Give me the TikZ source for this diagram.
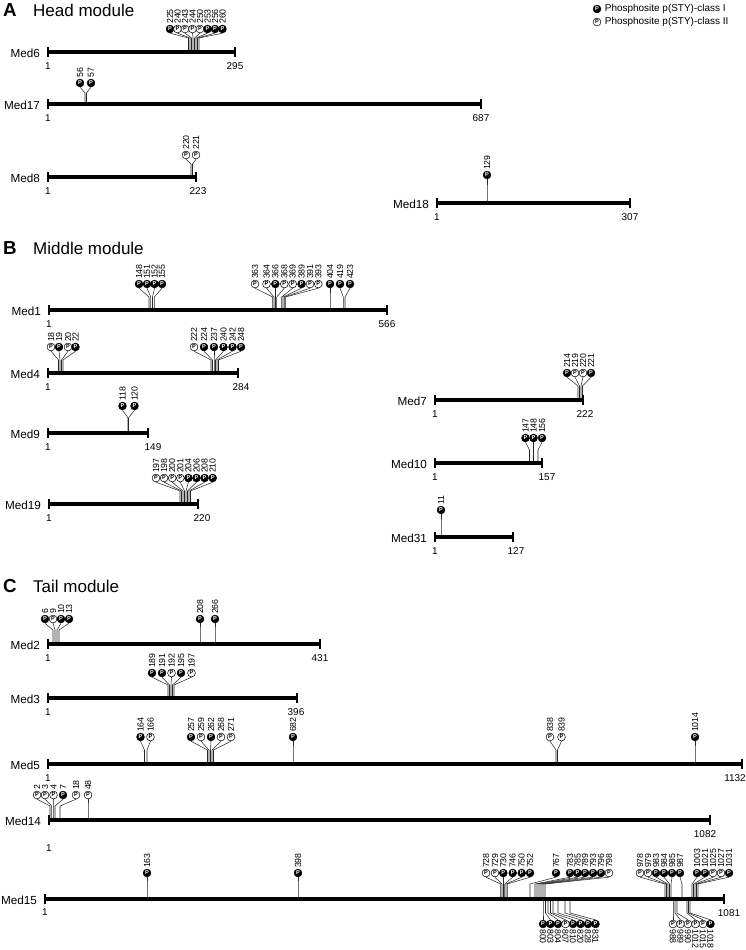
\documentclass[tikz,border=0pt]{standalone}
\usepackage{fontspec}
\setmainfont{Liberation Sans}
\usepackage{tikz}
\usetikzlibrary{positioning}

% one protein: name, x start, x end, y, length, x of length label, y offset of the 1
\newcommand{\protbar}[7]{%
  \coordinate (#1s) at (#2,#4);
  \coordinate (#1e) at (#3,#4);
  \draw[protline] (#1s) -- (#1e);
  \draw[protend] ([yshift=0.14cm]#1s) -- ([yshift=-0.14cm]#1s);
  \draw[protend] ([yshift=0.14cm]#1e) -- ([yshift=-0.14cm]#1e);
  \node[pname, anchor=east] (#1name) at ([xshift=-0.2cm,yshift=-0.03cm]#1s) {#1};
  \node[endnum] (#1one) at (#2,#4+#7) {1};
  \node[endnum] (#1len) at (#6,#4+14) {#5};
}
% site above the bar: anchor x, circle x, label, class
\newcommand{\siteup}[4]{%
  \node[#4] (\pn-#3) at (#2,\cy) {P};
  \node[sitenum, rotate=90, anchor=west] (\pn-#3t) at (\pn-#3.north) {#3};
  \draw[conn] (#1,\by) -- (#1,\ey) -- (\pn-#3.south);
}
% site below the bar
\newcommand{\sitedown}[4]{%
  \node[#4] (\pn-#3) at (#2,\cyd) {P};
  \node[sitenum, rotate=-90, anchor=west] (\pn-#3t) at (\pn-#3.south) {#3};
  \draw[conn] (#1,\by) -- (#1,\eyd) -- (\pn-#3.north);
}

\tikzset{
  protline/.style={line width=3.4pt, line cap=butt},
  protend/.style={line width=0.9pt},
  pname/.style={font=\fontsize{10}{12}\selectfont, inner sep=1pt},
  endnum/.style={font=\fontsize{8.5}{10}\selectfont, inner sep=0pt},
  sitenum/.style={font=\fontsize{7.5}{8}\selectfont, inner sep=0.6pt},
  conn/.style={black!85, line width=0.45pt},
  clsI/.style={circle, draw=black, fill=black, text=white, line width=0.45pt, inner sep=0pt,
    minimum size=0.235cm, font=\fontsize{4.8}{4.8}\selectfont\bfseries},
  clsII/.style={clsI, fill=white, text=black},
  modletter/.style={font=\fontsize{16}{18}\selectfont\bfseries, anchor=west, inner sep=0pt},
  modtitle/.style={font=\fontsize{14.5}{17}\selectfont, anchor=west, inner sep=0pt},
  legtext/.style={font=\fontsize{8.5}{10}\selectfont, inner sep=0pt}
}

\begin{document}
\begin{tikzpicture}[x=0.03cm, y=-0.03cm]
    \useasboundingbox (0,0) rectangle (745,950);

    % legend
    \node[clsI] (legI) at (597,9) {P};
    \node[legtext, right=3pt of legI] (legItext) {Phosphosite p(STY)-class I};
    \node[clsII] (legII) at (597,22) {P};
    \node[legtext, right=3pt of legII] (legIItext) {Phosphosite p(STY)-class II};

    % A: head module
    \node[modletter] (lettA) at (3,10) {A};
    \node[modtitle] (titleA) at (33,10) {Head module};

    \def\pn{Med6}\def\by{52}\def\ey{38}\def\cy{29}
    \siteup{188.5}{170}{225}{clsI}
    \siteup{190}{177.5}{240}{clsII}
    \siteup{191.5}{185}{243}{clsII}
    \siteup{193}{192.5}{244}{clsII}
    \siteup{194.5}{200}{250}{clsII}
    \siteup{196}{207.5}{253}{clsI}
    \siteup{197.5}{215}{256}{clsI}
    \siteup{199}{222.5}{260}{clsI}
    \protbar{Med6}{48}{235}{52}{295}{235}{14}

    \def\pn{Med17}\def\by{104}\def\ey{93}\def\cy{83}
    \siteup{85}{80}{56}{clsI}
    \siteup{86.5}{91}{57}{clsI}
    \protbar{Med17}{48}{481}{104}{687}{481}{14}

    \def\pn{Med8}\def\by{177}\def\ey{164}\def\cy{155}
    \siteup{191}{186}{220}{clsII}
    \siteup{192.5}{196}{221}{clsII}
    \protbar{Med8}{48}{196}{177}{223}{198}{14}

    \def\pn{Med18}\def\by{203}\def\ey{190}\def\cy{175}
    \siteup{487}{487}{129}{clsI}
    \protbar{Med18}{437}{630}{203}{307}{630}{14}

    % B: middle module
    \node[modletter] (lettB) at (3,248) {B};
    \node[modtitle] (titleB) at (33,248) {Middle module};

    \def\pn{Med1}\def\by{310}\def\ey{297}\def\cy{284}
    \siteup{149}{139}{148}{clsI}
    \siteup{150.7}{147}{151}{clsI}
    \siteup{152.5}{154.5}{152}{clsI}
    \siteup{154.3}{162}{155}{clsI}
    \siteup{272.7}{255}{363}{clsII}
    \siteup{274}{266.5}{364}{clsII}
    \siteup{275.3}{275.3}{366}{clsI}
    \siteup{276.7}{284.3}{368}{clsII}
    \siteup{281.7}{292.7}{369}{clsII}
    \siteup{283}{301.5}{389}{clsI}
    \siteup{284.3}{310}{391}{clsII}
    \siteup{285.7}{318.3}{393}{clsII}
    \siteup{330}{330}{404}{clsI}
    \siteup{343.3}{340}{419}{clsI}
    \siteup{345}{350}{423}{clsI}
    \protbar{Med1}{49}{387}{310}{566}{387}{14}

    \def\pn{Med4}\def\by{373}\def\ey{360}\def\cy{347}
    \siteup{58.5}{51}{18}{clsII}
    \siteup{60}{59}{19}{clsI}
    \siteup{61.5}{68}{20}{clsII}
    \siteup{63}{75.5}{22}{clsI}
    \siteup{211}{194}{222}{clsII}
    \siteup{212.5}{204}{224}{clsI}
    \siteup{214}{214}{237}{clsI}
    \siteup{215.5}{223.5}{240}{clsI}
    \siteup{217}{232.5}{242}{clsI}
    \siteup{218.5}{241}{248}{clsI}
    \protbar{Med4}{48}{238}{373}{284}{241}{14}

    \def\pn{Med7}\def\by{400}\def\ey{386}\def\cy{373}
    \siteup{578}{567}{214}{clsI}
    \siteup{579.5}{575}{219}{clsII}
    \siteup{581}{583}{220}{clsII}
    \siteup{582.5}{591}{221}{clsI}
    \protbar{Med7}{435}{583}{400}{222}{585}{14}

    \def\pn{Med9}\def\by{433}\def\ey{418}\def\cy{406}
    \siteup{128}{122.5}{118}{clsI}
    \siteup{128.5}{134.5}{120}{clsI}
    \protbar{Med9}{48}{148}{433}{149}{153}{14}

    \def\pn{Med10}\def\by{463}\def\ey{450}\def\cy{438}
    \siteup{529.5}{525.5}{147}{clsI}
    \siteup{533.5}{533.5}{148}{clsI}
    \siteup{538}{542}{156}{clsI}
    \protbar{Med10}{435}{542}{463}{157}{547}{14}

    \def\pn{Med19}\def\by{504}\def\ey{491}\def\cy{478}
    \siteup{180}{156}{197}{clsII}
    \siteup{181.5}{164.1}{198}{clsII}
    \siteup{183}{172.2}{200}{clsII}
    \siteup{184.5}{180.3}{201}{clsII}
    \siteup{186}{188.4}{204}{clsI}
    \siteup{187.5}{196.5}{206}{clsI}
    \siteup{189}{204.6}{208}{clsI}
    \siteup{190.5}{212.7}{210}{clsI}
    \protbar{Med19}{49}{198}{504}{220}{202}{14}

    \def\pn{Med31}\def\by{537}\def\ey{524}\def\cy{510}
    \siteup{441}{441}{11}{clsI}
    \protbar{Med31}{435}{513}{537}{127}{516}{14}

    % C: tail module
    \node[modletter] (lettC) at (3,586) {C};
    \node[modtitle] (titleC) at (33,586) {Tail module};

    \def\pn{Med2}\def\by{644}\def\ey{630}\def\cy{619}
    \siteup{53}{45}{6}{clsI}
    \siteup{55}{53}{9}{clsII}
    \siteup{57}{61}{10}{clsI}
    \siteup{59}{69}{13}{clsI}
    \siteup{200}{200}{208}{clsI}
    \siteup{215}{215}{266}{clsI}
    \protbar{Med2}{48}{320}{644}{431}{320}{14}

    \def\pn{Med3}\def\by{698}\def\ey{685}\def\cy{673}
    \siteup{168}{152}{189}{clsI}
    \siteup{169.5}{162}{191}{clsI}
    \siteup{171}{171.5}{192}{clsII}
    \siteup{172.5}{181}{195}{clsI}
    \siteup{174}{191.5}{197}{clsII}
    \protbar{Med3}{48}{297}{698}{396}{296}{14}

    \def\pn{Med5}\def\by{764}\def\ey{750}\def\cy{737}
    \siteup{144.5}{140.5}{164}{clsI}
    \siteup{147}{150.5}{166}{clsII}
    \siteup{207.5}{191}{257}{clsI}
    \siteup{209}{201}{259}{clsII}
    \siteup{210.5}{211}{262}{clsI}
    \siteup{212}{221}{268}{clsII}
    \siteup{213.5}{231}{271}{clsII}
    \siteup{293}{293}{682}{clsI}
    \siteup{556}{550}{838}{clsII}
    \siteup{557.5}{561.5}{839}{clsII}
    \siteup{695}{695}{1014}{clsI}
    \protbar{Med5}{48}{742}{764}{1132}{735}{14}

    \def\pn{Med14}\def\by{820}\def\ey{806}\def\cy{795}
    \siteup{50}{37}{2}{clsII}
    \siteup{51.7}{45}{3}{clsII}
    \siteup{53.3}{53.5}{4}{clsII}
    \siteup{55}{63}{7}{clsI}
    \siteup{60}{76}{18}{clsII}
    \siteup{88}{88}{48}{clsII}
    \protbar{Med14}{49}{710}{820}{1082}{705}{28}

    \def\pn{Med15}\def\by{899}\def\ey{884}\def\cy{873}\def\eyd{913}\def\cyd{924}
    \siteup{147}{147}{163}{clsI}
    \siteup{298}{298}{398}{clsI}
    \siteup{500.7}{486}{728}{clsII}
    \siteup{502}{495}{729}{clsII}
    \siteup{503.3}{503.3}{730}{clsI}
    \siteup{504.7}{512.7}{746}{clsI}
    \siteup{506}{521.7}{750}{clsI}
    \siteup{507.3}{530}{752}{clsI}
    \siteup{530}{556}{767}{clsI}
    \siteup{535}{570}{783}{clsI}
    \siteup{537}{577.5}{785}{clsI}
    \siteup{539}{585}{789}{clsI}
    \siteup{541}{593}{793}{clsI}
    \siteup{543}{601}{796}{clsI}
    \siteup{545}{609}{798}{clsII}
    \siteup{665}{640}{978}{clsII}
    \siteup{666.5}{648}{979}{clsII}
    \siteup{668}{656}{983}{clsI}
    \siteup{669.5}{664}{984}{clsI}
    \siteup{671}{672}{985}{clsI}
    \siteup{682}{680}{987}{clsI}
    \siteup{692}{697}{1003}{clsI}
    \siteup{693.5}{705}{1021}{clsI}
    \siteup{695}{713}{1025}{clsII}
    \siteup{696.5}{721}{1027}{clsII}
    \siteup{698}{729}{1031}{clsI}
    \sitedown{543}{543}{800}{clsI}
    \sitedown{545.5}{550.5}{803}{clsI}
    \sitedown{548}{558}{804}{clsI}
    \sitedown{550.5}{565.5}{807}{clsII}
    \sitedown{553}{573}{810}{clsI}
    \sitedown{558}{580.5}{820}{clsI}
    \sitedown{565}{588}{828}{clsI}
    \sitedown{570}{595.5}{831}{clsI}
    \sitedown{673}{673}{988}{clsII}
    \sitedown{675}{680.5}{989}{clsII}
    \sitedown{677}{688}{990}{clsII}
    \sitedown{687}{695.5}{1012}{clsII}
    \sitedown{688.5}{703}{1015}{clsII}
    \sitedown{690}{710.5}{1018}{clsI}
    \protbar{Med15}{45}{724}{899}{1081}{729}{13}
\end{tikzpicture}
\end{document}
